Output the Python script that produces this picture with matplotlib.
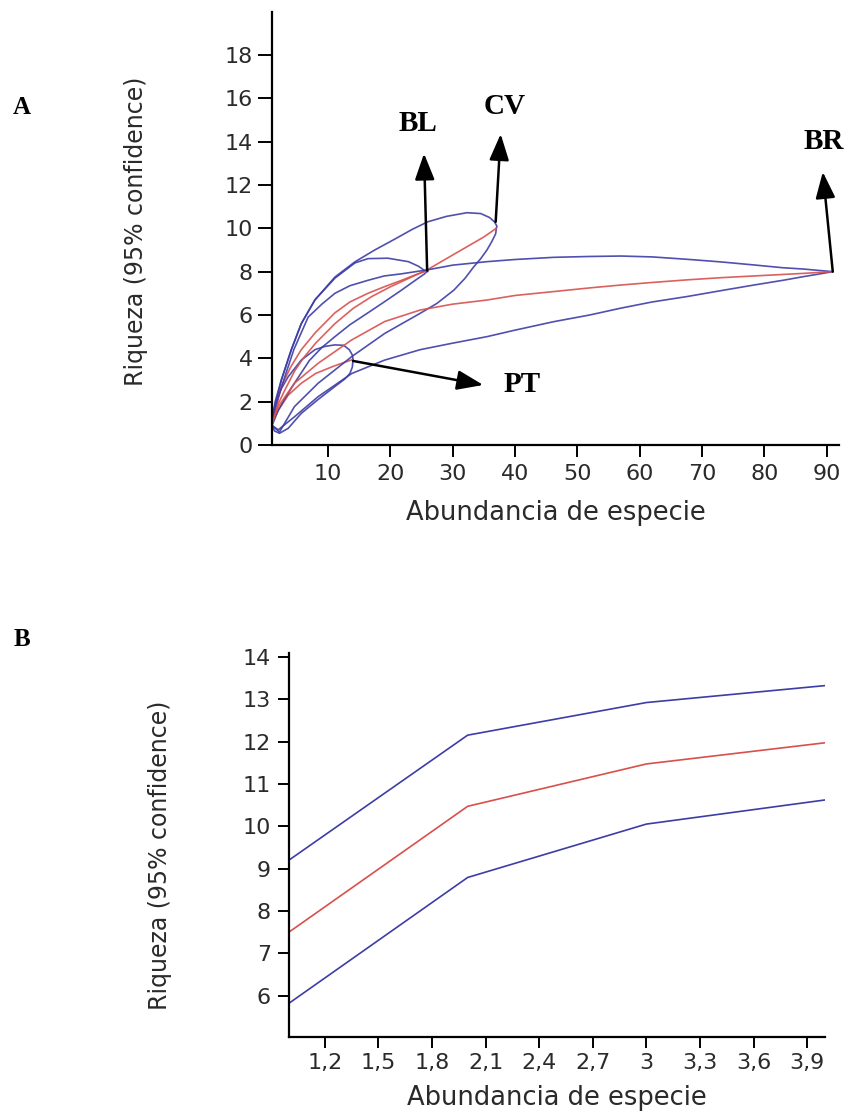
import matplotlib
matplotlib.use("Agg")
import matplotlib.pyplot as plt

# ---------------- Panel A data (rarefaction curves) ----------------
# PT
pt_mean_x = [1, 2, 3.6, 5.7, 8, 11, 14]
pt_mean_y = [1.0, 1.6, 2.3, 2.85, 3.3, 3.65, 3.95]
pt_up_x = [1, 1.4, 2.5, 3.6, 5.7, 7.9, 9.5, 11.1, 12.5, 13.4, 13.9, 14]
pt_up_y = [1.2, 1.77, 2.6, 3.15, 3.92, 4.4, 4.55, 4.62, 4.6, 4.4, 4.15, 3.95]
pt_lo_x = [1, 1.4, 2.2, 3.6, 5.7, 8.4, 11.1, 12.7, 13.5, 13.9, 14]
pt_lo_y = [0.9, 0.65, 0.54, 0.77, 1.46, 2.1, 2.7, 3.05, 3.3, 3.6, 3.95]

# BL
bl_mean_x = [1, 2.5, 4, 5.7, 8, 11.1, 13.5, 16.4, 19, 21.8, 24, 26]
bl_mean_y = [1.0, 2.7, 3.6, 4.4, 5.2, 6.1, 6.6, 7.0, 7.3, 7.6, 7.85, 8.05]
bl_up_x = [1, 1.2, 2.5, 4.1, 5.7, 7.9, 11.1, 14.3, 16.4, 19.6, 22.9, 24.5, 25.5, 26]
bl_up_y = [1.0, 1.46, 3.0, 4.4, 5.6, 6.7, 7.7, 8.4, 8.6, 8.62, 8.46, 8.25, 8.05, 8.0]
bl_lo_x = [1, 2, 3, 4.6, 7, 9, 11.1, 13.5, 16.4, 19, 21.8, 24, 25.5, 26]
bl_lo_y = [0.9, 1.6, 2.1, 2.85, 3.9, 4.5, 5.0, 5.55, 6.1, 6.6, 7.15, 7.6, 7.9, 8.05]

# CV
cv_mean_x = [1, 2, 3, 4.6, 6, 8, 11.1, 14, 17, 20, 23, 26, 29, 32, 35, 37]
cv_mean_y = [1.0, 1.9, 2.5, 3.4, 4.0, 4.7, 5.6, 6.3, 6.85, 7.3, 7.7, 8.1, 8.6, 9.1, 9.6, 10.0]
cv_up_x = [1, 1.5, 2.5, 4.1, 5.7, 7.9, 11.1, 14.3, 17.5, 20.7, 23.5, 26, 29, 32.3, 34.5, 35.9, 36.7, 37.1, 37]
cv_up_y = [1.0, 2.0, 3.0, 4.4, 5.6, 6.7, 7.75, 8.45, 9.0, 9.5, 9.95, 10.3, 10.55, 10.72, 10.68, 10.5, 10.3, 10.1, 10.0]
cv_lo_x = [1, 2.2, 4.6, 8.4, 13.8, 19.1, 24.8, 27.5, 30.2, 32, 33.4, 34.5, 35.5, 36.3, 36.9, 37]
cv_lo_y = [0.9, 0.6, 1.77, 2.85, 4.08, 5.15, 6.08, 6.54, 7.15, 7.7, 8.23, 8.6, 9.0, 9.4, 9.75, 10.0]

# BR
br_mean_x = [1, 2, 4.6, 8.4, 13.8, 19.1, 24.8, 30, 35.5, 40, 46.2, 52, 56.9, 62, 67.6, 73, 78.3, 83, 86.3, 91]
br_mean_y = [1.0, 1.77, 2.85, 3.77, 4.85, 5.7, 6.23, 6.5, 6.69, 6.9, 7.08, 7.25, 7.38, 7.5, 7.62, 7.72, 7.8, 7.87, 7.92, 8.0]
br_up_x = [1, 2, 3, 4.5, 6.8, 9, 11.1, 13.5, 16.4, 19, 21.8, 25.9, 30, 35.5, 40, 46.2, 52, 57, 62, 67.6, 73, 78.3, 83, 86.3, 89, 91]
br_up_y = [1.2, 2.2, 3.1, 4.4, 5.9, 6.5, 7.0, 7.35, 7.6, 7.8, 7.9, 8.08, 8.3, 8.46, 8.56, 8.66, 8.7, 8.72, 8.68, 8.57, 8.45, 8.31, 8.18, 8.12, 8.05, 8.0]
br_lo_x = [1, 2, 4.6, 8.4, 13.8, 19.1, 24.8, 30, 35.5, 40, 46.2, 52, 56.9, 62, 67.6, 73, 78.3, 83, 86.3, 89, 91]
br_lo_y = [0.9, 0.7, 1.3, 2.23, 3.3, 3.92, 4.4, 4.7, 5.0, 5.3, 5.69, 6.0, 6.31, 6.6, 6.85, 7.12, 7.38, 7.6, 7.77, 7.9, 8.0]

a_xticks = [10, 20, 30, 40, 50, 60, 70, 80, 90]
a_yticks = [0, 2, 4, 6, 8, 10, 12, 14, 16, 18]

# ---------------- Panel B data ----------------
b_x = [1, 2, 3, 4]
b_upper = [9.2, 12.15, 12.92, 13.32]
b_mean = [7.5, 10.47, 11.47, 11.97]
b_lower = [5.82, 8.79, 10.05, 10.62]
b_xticks = [1.2, 1.5, 1.8, 2.1, 2.4, 2.7, 3.0, 3.3, 3.6, 3.9]
b_xticklabels = ["1,2", "1,5", "1,8", "2,1", "2,4", "2,7", "3", "3,3", "3,6", "3,9"]
b_yticks = [6, 7, 8, 9, 10, 11, 12, 13, 14]

# ---------------- styling ----------------
BLUE = "#3d3da6"
RED = "#d8504c"
TXT = "#2a2a2a"
plt.rcParams["font.family"] = ["DejaVu Sans"]

W, H = 848, 1116
fig = plt.figure(figsize=(W / 100, H / 100), dpi=100)
PT_PX = 72 / 100  # points per pixel


def px_axes(left, right, top, bottom):
    return fig.add_axes([left / W, 1 - bottom / H, (right - left) / W, (bottom - top) / H])


def style(ax, xlen, ylen, xpad, ypad):
    for s in ("top", "right"):
        ax.spines[s].set_visible(False)
    for s in ("left", "bottom"):
        ax.spines[s].set_linewidth(1.6)
        ax.spines[s].set_color("black")
    ax.tick_params(direction="out", width=1.4, color="black", labelsize=16, labelcolor=TXT)
    ax.tick_params(axis="x", length=xlen * PT_PX, pad=xpad * PT_PX)
    ax.tick_params(axis="y", length=ylen * PT_PX, pad=ypad * PT_PX)


# ---------------- Panel A ----------------
axA = px_axes(272, 839, 11.6, 445)
lw = 1.2
series = [
    (pt_up_x, pt_up_y, BLUE), (pt_lo_x, pt_lo_y, BLUE), (pt_mean_x, pt_mean_y, RED),
    (bl_up_x, bl_up_y, BLUE), (bl_lo_x, bl_lo_y, BLUE), (bl_mean_x, bl_mean_y, RED),
    (cv_up_x, cv_up_y, BLUE), (cv_lo_x, cv_lo_y, BLUE), (cv_mean_x, cv_mean_y, RED),
    (br_up_x, br_up_y, BLUE), (br_lo_x, br_lo_y, BLUE), (br_mean_x, br_mean_y, RED),
]
for xs, ys, c in series:
    axA.plot(xs, ys, color=c, lw=lw, solid_joinstyle="round", solid_capstyle="round", alpha=0.9)
axA.set_xlim(1, 92)
axA.set_ylim(0, 20)
axA.set_xticks(a_xticks)
axA.set_yticks(a_yticks)
style(axA, xlen=12, ylen=14, xpad=7, ypad=5)
axA.set_xlabel("Abundancia de especie", fontsize=18.5, color=TXT)
axA.xaxis.set_label_coords(0.5, -0.126)
axA.set_ylabel("Riqueza (95% confidence)", fontsize=17, color=TXT)
axA.yaxis.set_label_coords(-0.219, 0.492)

arrow = dict(arrowstyle="-|>,head_length=0.8,head_width=0.3", mutation_scale=20,
             lw=1.8, color="black", shrinkA=0, shrinkB=0)
lab = dict(fontsize=21, fontweight="bold", family="Liberation Serif", ha="center",
           va="center", color="black")
axA.annotate("", xy=(25.4, 13.45), xytext=(25.9, 8.05), arrowprops=arrow)
axA.text(24.4, 14.85, "BL", **lab)
axA.annotate("", xy=(37.7, 14.35), xytext=(36.9, 10.3), arrowprops=arrow)
axA.text(38.3, 15.6, "CV", **lab)
axA.annotate("", xy=(89.4, 12.6), xytext=(91.0, 8.0), arrowprops=arrow)
axA.text(89.6, 14.0, "BR", clip_on=False, **lab)
axA.annotate("", xy=(34.9, 2.77), xytext=(14.0, 3.88), arrowprops=arrow)
axA.text(41.2, 2.8, "PT", **lab)

# ---------------- Panel B ----------------
axB = px_axes(289, 825, 653, 1036.7)
axB.plot(b_x, b_upper, color=BLUE, lw=lw)
axB.plot(b_x, b_mean, color=RED, lw=lw)
axB.plot(b_x, b_lower, color=BLUE, lw=lw)
axB.set_xlim(1, 4)
axB.set_ylim(5.03, 14.09)
axB.set_xticks(b_xticks)
axB.set_xticklabels(b_xticklabels)
axB.set_yticks(b_yticks)
style(axB, xlen=11, ylen=11, xpad=5, ypad=7)
axB.set_xlabel("Abundancia de especie", fontsize=18.5, color=TXT)
axB.xaxis.set_label_coords(0.5, -0.127)
axB.set_ylabel("Riqueza (95% confidence)", fontsize=17, color=TXT)
axB.yaxis.set_label_coords(-0.218, 0.474)

# panel letters
fig.text(22 / W, 1 - 108 / H, "A", fontsize=18, fontweight="bold", family="Liberation Serif",
         ha="center", va="center")
fig.text(22 / W, 1 - 640 / H, "B", fontsize=18, fontweight="bold", family="Liberation Serif",
         ha="center", va="center")

fig.savefig("out.png", dpi=100)
